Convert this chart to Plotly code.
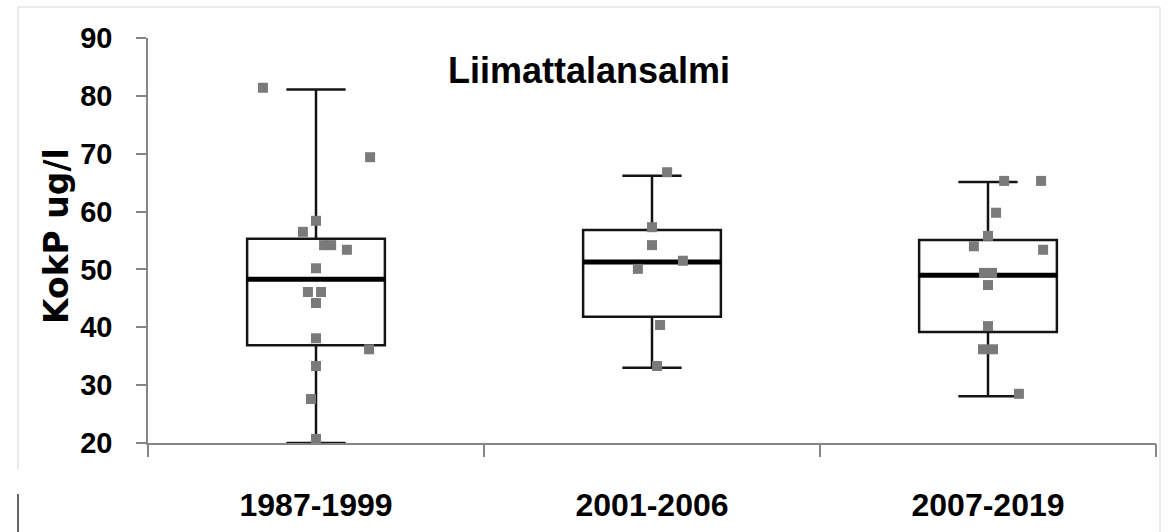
import plotly.graph_objects as go

# ---------------- data ----------------
categories = ["1987-1999", "2001-2006", "2007-2019"]

lower_whisker = [20.0, 33.0, 28.1]
q1 = [36.9, 41.8, 39.2]
median = [48.3, 51.3, 49.0]
q3 = [55.3, 56.8, 55.1]
upper_whisker = [81.1, 66.2, 65.1]

points_1987_1999 = [81.4, 69.4, 58.4, 56.5, 54.2, 54.2, 53.4, 50.2, 46.1, 46.1,
                    44.2, 38.1, 36.2, 33.3, 27.6, 20.7]
jitter_1987_1999 = [-0.158, 0.161, 0.0, -0.039, 0.024, 0.045, 0.092, 0.0, -0.024, 0.015,
                    0.0, 0.0, 0.158, 0.0, -0.015, 0.0]

points_2001_2006 = [66.8, 57.3, 54.2, 51.5, 50.1, 40.4, 33.3]
jitter_2001_2006 = [0.045, 0.0, 0.0, 0.092, -0.042, 0.024, 0.015]

points_2007_2019 = [65.3, 65.3, 59.8, 55.8, 54.0, 53.4, 49.4, 49.4, 47.3, 40.2,
                    36.2, 36.2, 28.5]
jitter_2007_2019 = [0.048, 0.158, 0.024, 0.0, -0.042, 0.164, -0.012, 0.012, 0.0, 0.0,
                    -0.015, 0.015, 0.092]

point_sets = [(points_1987_1999, jitter_1987_1999),
              (points_2001_2006, jitter_2001_2006),
              (points_2007_2019, jitter_2007_2019)]

title_text = "Liimattalansalmi"
y_title = "KokP ug/l"
y_ticks = [20, 30, 40, 50, 60, 70, 80, 90]

# ---------------- styling ----------------
W, H = 1168, 532
ML, MR, MT, MB = 148, 12, 38, 89
BOX_W = 0.41
FONT = "Liberation Sans, Arial, sans-serif"
AXIS_GRAY = "#868686"

fig = go.Figure()

xs = list(range(len(categories)))
fig.add_trace(go.Box(
    x=xs, q1=q1, median=median, q3=q3,
    lowerfence=lower_whisker, upperfence=upper_whisker,
    width=BOX_W, whiskerwidth=0.43,
    fillcolor="rgba(255,255,255,0)",
    line=dict(color="#141414", width=2.5),
    boxpoints=False, showlegend=False, hoverinfo="skip",
))

# thicker median lines
for i, m in enumerate(median):
    fig.add_trace(go.Scatter(
        x=[i - BOX_W / 2, i + BOX_W / 2], y=[m, m], mode="lines",
        line=dict(color="#000000", width=5), showlegend=False, hoverinfo="skip",
    ))

# data points
for i, (vals, jit) in enumerate(point_sets):
    fig.add_trace(go.Scatter(
        x=[i + j for j in jit], y=vals, mode="markers",
        marker=dict(symbol="square", size=10, color="#7a7a7a", line=dict(width=0)),
        showlegend=False, hoverinfo="skip",
    ))

# invisible trace on overlay axis for boundary ticks
fig.add_trace(go.Scatter(x=[-0.5, 2.5], y=[20, 20], mode="lines",
                         line=dict(width=0), xaxis="x2", showlegend=False,
                         hoverinfo="skip"))

def px_x(p):
    return (p - ML) / (W - ML - MR)

def px_y(p):
    return (H - MB - p) / (H - MT - MB)

fig.update_layout(
    width=W, height=H,
    margin=dict(l=ML, r=MR, t=MT, b=MB, autoexpand=False),
    paper_bgcolor="white", plot_bgcolor="white",
    xaxis=dict(
        range=[-0.5, 2.5], tickvals=xs, ticktext=categories,
        showgrid=False, zeroline=False, ticks="", automargin=False,
        showline=True, linecolor=AXIS_GRAY, linewidth=2,
        tickfont=dict(family=FONT, size=32, color="#000000", weight="bold"),
        ticklabelstandoff=33,
    ),
    xaxis2=dict(
        overlaying="x", anchor="y", side="bottom", automargin=False,
        range=[-0.5, 2.5], tickvals=[-0.5, 0.5, 1.5, 2.5],
        ticks="outside", ticklen=13, tickcolor=AXIS_GRAY, tickwidth=1.5,
        showticklabels=False, showgrid=False, zeroline=False, showline=False,
    ),
    yaxis=dict(
        range=[20, 90], tickvals=y_ticks, automargin=False,
        showgrid=False, zeroline=False,
        showline=True, linecolor=AXIS_GRAY, linewidth=1.5,
        ticks="outside", ticklen=10, tickcolor=AXIS_GRAY, tickwidth=1.5,
        tickfont=dict(family=FONT, size=29, color="#000000", weight="bold"),
        ticklabelstandoff=18,
    ),
    annotations=[
        dict(text=title_text, xref="paper", yref="paper",
             x=px_x(589), y=px_y(70), xanchor="center", yanchor="middle",
             showarrow=False,
             font=dict(family=FONT, size=36, color="#000000", weight="bold")),
        dict(text=y_title, xref="paper", yref="paper",
             x=px_x(56), y=px_y(236), xanchor="center", yanchor="middle",
             textangle=-90, showarrow=False,
             font=dict(family="DejaVu Sans, sans-serif", size=33, color="#000000",
                       weight="bold")),
    ],
    shapes=[
        dict(type="line", xref="paper", yref="paper", x0=px_x(18), x1=px_x(1160),
             y0=px_y(7), y1=px_y(7), line=dict(color="#e4e4e4", width=1.5)),
        dict(type="line", xref="paper", yref="paper", x0=px_x(18), x1=px_x(18),
             y0=px_y(7), y1=px_y(470), line=dict(color="#e4e4e4", width=1.5)),
        dict(type="line", xref="paper", yref="paper", x0=px_x(1160), x1=px_x(1160),
             y0=px_y(7), y1=px_y(532), line=dict(color="#e4e4e4", width=1.5)),
        dict(type="line", xref="paper", yref="paper", x0=px_x(18), x1=px_x(18),
             y0=px_y(494), y1=px_y(532), line=dict(color="#333333", width=1.5)),
    ],
)

fig.write_html("out.html")
